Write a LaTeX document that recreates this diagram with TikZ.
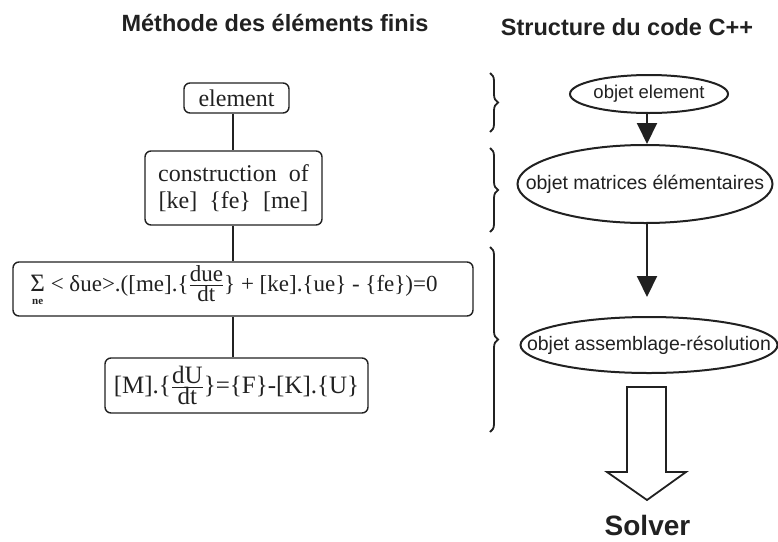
\documentclass[tikz,border=0pt]{standalone}
\usepackage{fontspec}
\setmainfont{Liberation Serif}
\setsansfont{Liberation Sans}
\usetikzlibrary{arrows.meta,shapes.geometric,decorations.pathreplacing,calc}
\definecolor{ink}{gray}{0.13}
\newcommand{\sumne}{\begin{tabular}[t]{@{}c@{}}{\fontsize{25}{26}\selectfont Σ}\\[-13pt]{\fontsize{11}{11}\selectfont\bfseries ne}\end{tabular}}
\begin{document}
\begin{tikzpicture}[x=1pt,y=-1pt,
  box/.style={draw=ink, text=ink, line width=1.4pt, rounded corners=6pt, inner sep=0pt,
    align=center, font=\fontsize{24}{27}\selectfont},
  oval/.style={ellipse, draw=ink, line width=2pt, inner sep=0pt},
  ovaltext/.style={text=ink, inner sep=0pt, font=\sffamily\fontsize{19.5}{22}\selectfont},
  title/.style={text=ink, font=\sffamily\bfseries\fontsize{23.5}{26}\selectfont},
  link/.style={draw=ink, line width=1.4pt},
  flow/.style={draw=ink, line width=2pt, -{Triangle[width=20pt,length=21pt]}},
  curly/.style={draw=ink, line width=1.8pt, decorate, decoration={brace, amplitude=8pt}}
]
\useasboundingbox (0,0) rectangle (778,541);

% titles
\node[title] (t1) at (275,23) {Méthode des éléments finis};
\node[title] (t2) at (627,27) {Structure du code C++};

% left column
\node[box, minimum width=105pt, minimum height=30pt] (b1) at (236.5,98) {element};
\node[box, minimum width=177pt, minimum height=74pt] (b2) at (233.5,188)
  {construction\ \ of\\ {[ke]}\ \ \{fe\}\ \ [me]};
\node[box, minimum width=460pt, minimum height=54pt, font=\fontsize{23}{26}\selectfont] (b3) at (243,289)
  {\sumne\ < δue>.([me].\{$\frac{\mbox{due}}{\mbox{dt}}$\} + [ke].\{ue\} - \{fe\})=0\hspace*{18pt}};
\node[box, minimum width=263pt, minimum height=55pt, font=\fontsize{25}{28}\selectfont] (b4) at (236.5,385.5)
  {[M].\{$\frac{\mbox{dU}}{\mbox{dt}}$\}=\{F\}-[K].\{U\}};

\coordinate (lx) at (233,0);
\draw[link] (lx |- b1.south) -- (lx |- b2.north);
\draw[link] (lx |- b2.south) -- (lx |- b3.north);
\draw[link] (lx |- b3.south) -- (lx |- b4.north);

% braces
\coordinate (k1a) at (490,73);  \coordinate (k1b) at (490,132);
\coordinate (k2a) at (490,148); \coordinate (k2b) at (490,232);
\coordinate (k3a) at (490,247); \coordinate (k3b) at (490,432);
\draw[curly] (k1a) -- (k1b);
\draw[curly] (k2a) -- (k2b);
\draw[curly] (k3a) -- (k3b);

% right column
\node[oval, minimum width=158pt, minimum height=38pt] (e1) at (649,94) {};
\node[ovaltext, font=\sffamily\fontsize{18.5}{21}\selectfont] (e1t) at (e1) {objet element};
\node[oval, minimum width=255pt, minimum height=78pt] (e2) at (645,184) {};
\node[ovaltext] (e2t) at (e2) {objet matrices élémentaires};
\node[oval, minimum width=257pt, minimum height=56pt] (e3) at (649,345) {};
\node[ovaltext] (e3t) at (e3) {objet assemblage-résolution};
\node[text=ink, anchor=base, inner sep=0pt, font=\sffamily\bfseries\fontsize{28}{30}\selectfont] (sv) at (647.5,535) {Solver};

\coordinate (ax) at (647,0);
\draw[flow] (ax |- e1.south) -- (ax |- e2.north);
\draw[flow, shorten >=19pt] (ax |- e2.south) -- (ax |- e3.north);

% hollow arrow
\coordinate (h) at (647,387);
\draw[ink, line width=1.8pt, line join=miter]
  ($(h)+(-20,0)$) -- ($(h)+(19,0)$) -- ($(h)+(19,85)$) -- ($(h)+(39,85)$)
  -- ($(h)+(0,113)$) -- ($(h)+(-40,85)$) -- ($(h)+(-20,85)$) -- cycle;
\end{tikzpicture}
\end{document}
